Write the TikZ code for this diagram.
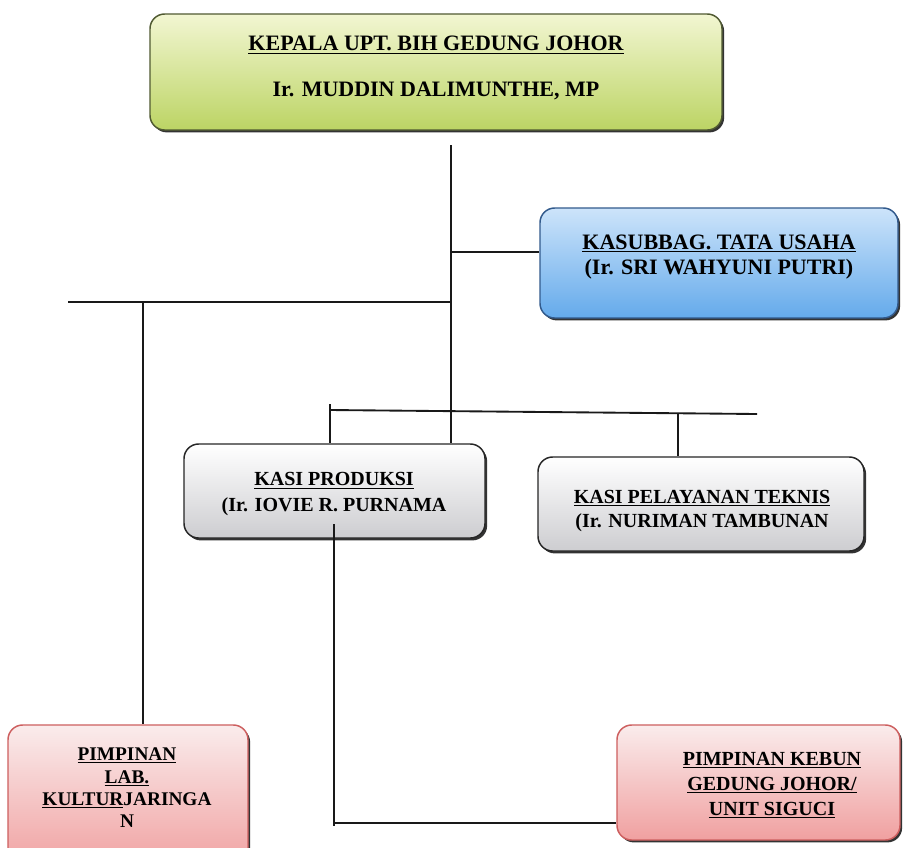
\documentclass[tikz,border=0pt]{standalone}
\usepackage{fontspec}
\setmainfont{Liberation Serif}
\usetikzlibrary{fit,shadows}
\definecolor{greentop}{RGB}{242,246,210}
\definecolor{greenbot}{RGB}{188,212,100}
\definecolor{greenline}{RGB}{80,90,50}
\definecolor{bluetop}{RGB}{205,228,250}
\definecolor{bluebot}{RGB}{100,170,235}
\definecolor{blueline}{RGB}{50,90,140}
\definecolor{greytop}{RGB}{255,255,255}
\definecolor{greybot}{RGB}{205,205,208}
\definecolor{pinktop}{RGB}{250,236,236}
\definecolor{pinkbot}{RGB}{240,160,160}
\definecolor{pinkline}{RGB}{205,95,95}
\tikzset{
  box/.style={draw, line width=1.1pt, rounded corners=11pt, inner sep=0pt,
    drop shadow={shadow xshift=1.6pt, shadow yshift=-1.8pt, fill=black!80, opacity=1}},
  greenbox/.style={box, draw=greenline, top color=greentop, bottom color=greenbot},
  bluebox/.style={box, draw=blueline, top color=bluetop, bottom color=bluebot},
  greybox/.style={box, draw=black!85, top color=greytop, bottom color=greybot},
  pinkbox/.style={box, draw=pinkline, top color=pinktop, bottom color=pinkbot},
  label/.style={align=center, inner sep=0pt},
  conn/.style={line width=1.4pt, black!90}
}
\begin{document}
\begin{tikzpicture}[x=0.75pt,y=-0.75pt]
\useasboundingbox (0,0) rectangle (903,847);
\clip (0,0) rectangle (903,847);
\fill[white] (0,0) rectangle (903,847);

% boxes
\node[greenbox, fit={(150,14) (722,130)}] (kepala) {};
\node[label, font=\bfseries\fontsize{16.5}{34}\selectfont] (kepalatext) at (436,68)
  {\underline{KEPALA UPT. BIH GEDUNG JOHOR}\\ Ir. MUDDIN DALIMUNTHE, MP};
\node[bluebox, fit={(540,208) (898,318)}] (tu) {};
\node[label, font=\bfseries\fontsize{16.5}{19}\selectfont] (tutext) at (719,257)
  {\underline{KASUBBAG. TATA USAHA}\\(Ir. SRI WAHYUNI PUTRI)};
\node[greybox, fit={(184,444) (485,538)}] (prod) {};
\node[label, font=\bfseries\fontsize{15}{19}\selectfont] (prodtext) at (334,494)
  {\underline{KASI PRODUKSI}\\(Ir. IOVIE R. PURNAMA};
\node[greybox, fit={(538,457) (864,551)}] (pel) {};
\node[label, font=\bfseries\fontsize{15}{18}\selectfont] (peltext) at (702,511)
  {\underline{KASI PELAYANAN TEKNIS}\\(Ir. NURIMAN TAMBUNAN};
\node[pinkbox, fit={(8,725) (248,870)}] (lab) {};
\node[label, font=\bfseries\fontsize{14.5}{16.8}\selectfont] (labtext) at (127,788)
  {\underline{PIMPINAN}\\\underline{LAB.}\\\underline{KULTUR}JARINGA\\N};
\node[pinkbox, fit={(617,725) (900,840)}] (kebun) {};
\node[label, font=\bfseries\fontsize{15}{18.8}\selectfont] (kebuntext) at (772,785)
  {\underline{PIMPINAN KEBUN}\\\underline{GEDUNG JOHOR/}\\\underline{UNIT SIGUCI}};

% connectors
\coordinate (mtop) at (451,145);
\coordinate (mtu) at (451,252);
\coordinate (mleft) at (451,302);
\coordinate (lend) at (68,302);
\coordinate (ldrop) at (143,302);
\coordinate (hl) at (330,410);
\coordinate (hr) at (757,414);
\coordinate (ltick) at (330,404);
\coordinate (pdrop) at (678,413);
\coordinate (pbot) at (334,524);
\coordinate (pcorner) at (334,826);
\coordinate (pend) at (334,823);

\draw[conn] (mtop) -- (mtop |- prod.north);
\draw[conn] (mtu) -- (tu.west |- mtu);
\draw[conn] (mleft) -- (lend);
\draw[conn] (ldrop) -- (ldrop |- lab.north);
\draw[conn] (hl) -- (hr);
\draw[conn] (ltick) -- (ltick |- prod.north);
\draw[conn] (pdrop) -- (pdrop |- pel.north);
\draw[conn] (pbot) -- (pcorner);
\draw[conn] (pend) -- (kebun.west |- pend);
\end{tikzpicture}
\end{document}
